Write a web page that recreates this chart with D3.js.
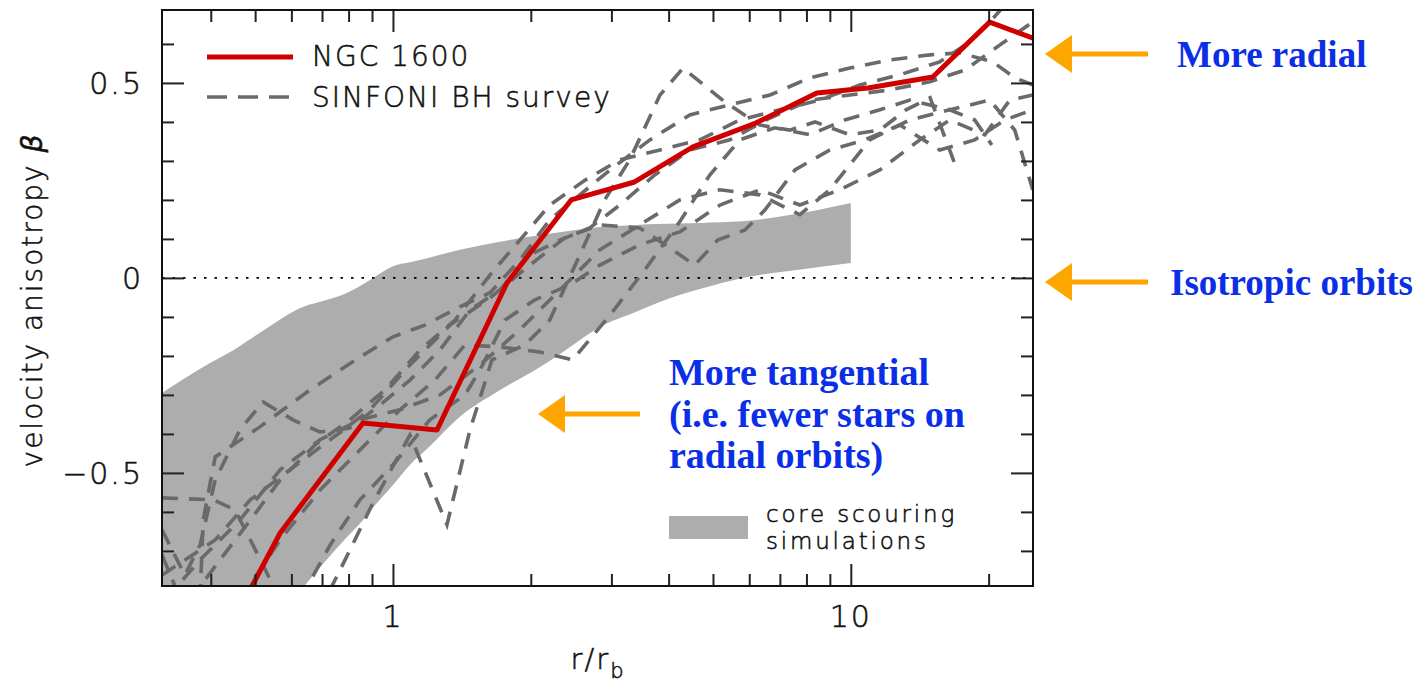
<!DOCTYPE html>
<html>
<head>
<meta charset="utf-8">
<script src="https://cdn.jsdelivr.net/npm/d3@7"></script>
<style>
  html, body { margin: 0; padding: 0; background: #ffffff; }
  svg { display: block; }
  .axis-text { font-family: "DejaVu Sans", sans-serif; font-weight: 200; fill: #111; stroke: #111; stroke-width: 0.55px; letter-spacing: 2px; }
  .note { font-family: "Liberation Serif", "Times New Roman", serif; font-weight: bold; fill: #0a2fe6; }
</style>
</head>
<body>
<svg id="chart" width="1425" height="683"></svg>
<script>
// ---- axis ranges and ticks ----
const xDomain = [0.313, 25];
const yDomain = [-0.79, 0.687];
const xMajorTicks = [1, 10];
const xMinorTicks = [0.4, 0.5, 0.6, 0.7, 0.8, 0.9, 2, 3, 4, 5, 6, 7, 8, 9, 20];
const yMajorTicks = [-0.5, 0, 0.5];
const yMinorTicks = [-0.7, -0.6, -0.4, -0.3, -0.2, -0.1, 0.1, 0.2, 0.3, 0.4, 0.6];

// ---- NGC 1600 anisotropy profile ----
const ngcR    = [0.417, 0.567, 0.860, 1.248, 1.774, 2.45, 3.37, 4.52, 6.20, 8.43, 10.9, 15.1, 20.1, 25.0];
const ngcBeta = [-0.95, -0.654, -0.372, -0.390, -0.013, 0.200, 0.246, 0.336, 0.397, 0.474, 0.487, 0.515, 0.656, 0.615];

// ---- core scouring simulations (band) ----
const bandR     = [0.313, 0.4, 0.45, 0.51, 0.64, 0.7, 0.79, 0.85, 0.9, 1.0, 1.09, 1.2, 1.4, 1.7, 2.1, 2.5, 2.8, 3.4, 3.8, 4.7, 5.8, 7.7, 10];
const bandUpper = [-0.295, -0.217, -0.184, -0.142, -0.073, -0.06, -0.039, -0.02, -0.002, 0.03, 0.04, 0.052, 0.072, 0.092, 0.11, 0.123, 0.13, 0.136, 0.138, 0.141, 0.145, 0.165, 0.192];
const bandLower = [-1.3, -1.1, -1.0, -0.93, -0.79, -0.736, -0.667, -0.628, -0.592, -0.531, -0.479, -0.433, -0.356, -0.29, -0.228, -0.168, -0.129, -0.087, -0.063, -0.028, 0.0, 0.021, 0.038];

// ---- SINFONI BH survey galaxies ----
const sinfoni1R    = [0.313, 0.405, 0.452, 0.507, 0.581, 0.693, 0.786, 0.900, 1.089, 1.312, 1.473, 1.645, 1.94, 2.20, 2.56, 2.90, 3.29, 3.83, 4.30, 5.31, 6.33, 7.36, 8.35, 9.95, 11.57, 13.2, 14.9, 16.9];
const sinfoni1Beta = [-0.564, -0.569, -0.595, -0.710, -0.851, -0.851, -0.723, -0.582, -0.403, -0.633, -0.390, -0.210, -0.172, -0.108, 0.059, 0.200, 0.303, 0.469, 0.538, 0.451, 0.392, 0.379, 0.400, 0.367, 0.379, 0.431, 0.462, 0.290];

const sinfoni2R    = [0.463, 0.567, 0.693, 0.847, 1.036, 1.235, 1.436, 1.713, 2.094, 2.47, 2.98, 3.55, 4.23, 4.92, 5.72, 6.82, 8.14, 9.70, 11.57, 13.45, 16.45, 18.65, 20.32];
const sinfoni2Beta = [-0.826, -0.672, -0.544, -0.441, -0.338, -0.262, -0.172, -0.177, -0.190, -0.210, -0.095, 0.021, 0.144, 0.264, 0.354, 0.385, 0.367, 0.405, 0.431, 0.456, 0.431, 0.405, 0.341];

const sinfoni3R    = [0.313, 0.409, 0.488, 0.596, 0.729, 0.891, 1.089, 1.332, 1.63, 1.991, 2.375, 2.83, 3.46, 3.93, 4.56, 5.12, 5.87, 6.49, 7.55, 9.00, 10.73, 12.80, 15.64, 18.65, 21.69, 24.97];
const sinfoni3Beta = [-0.762, -0.672, -0.569, -0.492, -0.415, -0.338, -0.223, -0.121, -0.051, 0.033, 0.103, 0.136, 0.128, 0.085, 0.033, 0.097, 0.123, 0.174, 0.277, 0.328, 0.354, 0.392, 0.328, 0.354, 0.405, 0.431];

const sinfoni4R    = [0.379, 0.385, 0.409, 0.512, 0.659, 0.847, 1.0, 1.174, 1.40, 1.63, 1.893, 2.20, 2.56, 2.98, 3.64, 4.45, 5.44, 6.66, 8.14, 9.95, 12.17, 14.88, 17.30, 20.42, 22.81, 24.97];
const sinfoni4Beta = [-0.826, -0.621, -0.459, -0.382, -0.287, -0.203, -0.151, -0.121, -0.074, -0.038, 0.046, 0.149, 0.213, 0.277, 0.354, 0.418, 0.444, 0.469, 0.513, 0.538, 0.559, 0.572, 0.577, 0.554, 0.513, 0.495];

const sinfoni5R    = [0.313, 0.351, 0.379, 0.409, 0.463, 0.520, 0.605, 0.693, 0.805, 0.937, 1.089, 1.266, 1.473, 1.713, 1.991, 2.315, 2.69, 3.13, 3.73, 4.45, 5.44, 6.66, 8.14, 9.95, 12.17, 14.88, 17.74, 21.14, 24.97];
const sinfoni5Beta = [-0.646, -0.762, -0.685, -0.518, -0.390, -0.318, -0.364, -0.395, -0.385, -0.326, -0.262, -0.185, -0.082, -0.031, 0.059, 0.097, 0.128, 0.187, 0.264, 0.328, 0.354, 0.410, 0.456, 0.469, 0.482, 0.503, 0.533, 0.597, 0.656];

const sinfoni6R    = [0.313, 0.334, 0.360, 0.419, 0.488, 0.567, 0.676, 0.805, 0.961, 1.145, 1.366, 1.63, 1.893, 2.20, 2.63, 3.13, 3.83, 4.68, 5.72, 7.00, 8.55, 10.47, 12.80, 15.64, 18.19, 20.12, 21.69];
const sinfoni6Beta = [-0.710, -0.790, -0.826, -0.723, -0.621, -0.518, -0.428, -0.364, -0.287, -0.185, -0.108, 0.008, 0.097, 0.187, 0.251, 0.303, 0.328, 0.354, 0.405, 0.431, 0.456, 0.495, 0.521, 0.554, 0.605, 0.656, 0.700];

const sinfoni7R    = [0.626, 0.729, 0.847, 1.0, 1.204, 1.436, 1.549, 1.757, 2.042, 2.435, 2.83, 3.46, 4.23, 5.18, 6.33, 7.74, 9.46, 11.57, 14.15, 16.45, 19.62, 22.24, 24.97];
const sinfoni7Beta = [-0.826, -0.685, -0.569, -0.479, -0.364, -0.300, -0.236, -0.108, -0.056, -0.018, 0.033, 0.085, 0.118, 0.187, 0.226, 0.187, 0.226, 0.277, 0.354, 0.405, 0.367, 0.456, 0.469];

const sinfoni8R    = [0.318, 0.379, 0.463, 0.567, 0.693, 0.847, 1.036, 1.266, 1.549, 1.893, 2.315, 2.83, 3.46, 4.23, 5.18, 6.33, 7.74, 9.00, 11.0, 13.45, 16.45, 20.12, 22.81, 24.97];
const sinfoni8Beta = [-0.826, -0.723, -0.621, -0.492, -0.415, -0.364, -0.338, -0.300, -0.223, -0.133, -0.031, 0.072, 0.136, 0.200, 0.226, 0.213, 0.162, 0.226, 0.354, 0.405, 0.431, 0.456, 0.379, 0.226];

const sinfoniSeries = [
  [sinfoni1R, sinfoni1Beta], [sinfoni2R, sinfoni2Beta], [sinfoni3R, sinfoni3Beta],
  [sinfoni4R, sinfoni4Beta], [sinfoni5R, sinfoni5Beta], [sinfoni6R, sinfoni6Beta],
  [sinfoni7R, sinfoni7Beta], [sinfoni8R, sinfoni8Beta]
];

// ---- layout ----
const plot = { left: 162, right: 1033, top: 10, bottom: 586 };
const svg = d3.select("#chart");

const x = d3.scaleLog().domain(xDomain).range([plot.left, plot.right]);
const y = d3.scaleLinear().domain(yDomain).range([plot.bottom, plot.top]);

svg.append("defs").append("clipPath").attr("id", "plot-clip")
  .append("rect")
  .attr("x", plot.left).attr("y", plot.top)
  .attr("width", plot.right - plot.left).attr("height", plot.bottom - plot.top);

const inner = svg.append("g").attr("clip-path", "url(#plot-clip)");

const bandColor = "#adadad";
const dashColor = "#6a6a6a";
const redColor = "#d00000";

// simulation band
const bandData = bandR.map((r, i) => ({ r, lo: bandLower[i], hi: bandUpper[i] }));
inner.append("path")
  .datum(bandData)
  .attr("fill", bandColor)
  .attr("d", d3.area()
    .x(d => x(d.r))
    .y0(d => y(d.lo))
    .y1(d => y(d.hi))
    .curve(d3.curveMonotoneX));

// isotropic reference line
inner.append("line")
  .attr("x1", plot.left).attr("x2", plot.right)
  .attr("y1", y(0)).attr("y2", y(0))
  .attr("stroke", "#000").attr("stroke-width", 1.6)
  .attr("stroke-dasharray", "2.5,8");

// survey profiles
const line = d3.line().x(d => x(d[0])).y(d => y(d[1]));
sinfoniSeries.forEach(([rs, bs]) => {
  inner.append("path")
    .datum(rs.map((r, i) => [r, bs[i]]))
    .attr("fill", "none")
    .attr("stroke", dashColor)
    .attr("stroke-width", 3.6)
    .attr("stroke-dasharray", "16,11")
    .attr("d", line);
});

// NGC 1600
inner.append("path")
  .datum(ngcR.map((r, i) => [r, ngcBeta[i]]))
  .attr("fill", "none")
  .attr("stroke", redColor)
  .attr("stroke-width", 5)
  .attr("stroke-linejoin", "round")
  .attr("d", line);

// ---- frame and ticks ----
const tickColor = "#222";
const majorLen = 22, minorLen = 12;

function addTicks(axisFn, scale, values, len, translate) {
  svg.append("g")
    .attr("transform", translate)
    .call(axisFn(scale).tickValues(values).tickSize(len).tickFormat(""))
    .call(g => g.select(".domain").remove())
    .call(g => g.selectAll(".tick line").attr("stroke", tickColor).attr("stroke-width", 2));
}
// bottom & top
addTicks(d3.axisTop, x, xMajorTicks, majorLen, `translate(0,${plot.bottom})`);
addTicks(d3.axisTop, x, xMinorTicks, minorLen, `translate(0,${plot.bottom})`);
addTicks(d3.axisBottom, x, xMajorTicks, majorLen, `translate(0,${plot.top})`);
addTicks(d3.axisBottom, x, xMinorTicks, minorLen, `translate(0,${plot.top})`);
// left & right
addTicks(d3.axisRight, y, yMajorTicks, majorLen, `translate(${plot.left},0)`);
addTicks(d3.axisRight, y, yMinorTicks, minorLen, `translate(${plot.left},0)`);
addTicks(d3.axisLeft, y, yMajorTicks, majorLen, `translate(${plot.right},0)`);
addTicks(d3.axisLeft, y, yMinorTicks, minorLen, `translate(${plot.right},0)`);

svg.append("rect")
  .attr("x", plot.left).attr("y", plot.top)
  .attr("width", plot.right - plot.left).attr("height", plot.bottom - plot.top)
  .attr("fill", "none").attr("stroke", "#111").attr("stroke-width", 2);

// tick labels
const yFmt = d => d === 0 ? "0" : d3.format(".1f")(d);
svg.append("g").selectAll("text")
  .data(yMajorTicks).join("text")
  .attr("class", "axis-text")
  .attr("x", 143).attr("y", d => y(d) + 11)
  .attr("text-anchor", "end")
  .attr("font-size", 30)
  .text(yFmt);

svg.append("g").selectAll("text")
  .data(xMajorTicks).join("text")
  .attr("class", "axis-text")
  .attr("x", d => x(d)).attr("y", 627)
  .attr("text-anchor", "middle")
  .attr("font-size", 30)
  .text(d => d3.format("d")(d));

// axis titles
const xTitle = svg.append("text")
  .attr("class", "axis-text")
  .attr("x", 598).attr("y", 669)
  .attr("text-anchor", "middle")
  .attr("font-size", 29);
xTitle.append("tspan").text("r/r");
xTitle.append("tspan").attr("dy", 9).attr("font-size", 21).text("b");

const yTitle = svg.append("text")
  .attr("class", "axis-text")
  .attr("transform", "translate(42,300) rotate(-90)")
  .attr("text-anchor", "middle")
  .attr("font-size", 28);
yTitle.append("tspan").text("velocity anisotropy ");
yTitle.append("tspan").attr("font-style", "italic").text("β");

// ---- legends ----
const legend = svg.append("g");
legend.append("line")
  .attr("x1", 207).attr("x2", 293).attr("y1", 57).attr("y2", 57)
  .attr("stroke", redColor).attr("stroke-width", 5);
legend.append("text").attr("class", "axis-text")
  .attr("x", 312).attr("y", 66).attr("font-size", 28).text("NGC 1600");
legend.append("line")
  .attr("x1", 207).attr("x2", 293).attr("y1", 97).attr("y2", 97)
  .attr("stroke", dashColor).attr("stroke-width", 3.6)
  .attr("stroke-dasharray", "20,11");
legend.append("text").attr("class", "axis-text")
  .attr("x", 312).attr("y", 107).attr("font-size", 28).text("SINFONI BH survey");

legend.append("rect")
  .attr("x", 669).attr("y", 516).attr("width", 79).attr("height", 23)
  .attr("fill", bandColor);
legend.append("text").attr("class", "axis-text")
  .attr("x", 766).attr("y", 522).attr("font-size", 23)
  .style("letter-spacing", "2.8px").text("core scouring");
legend.append("text").attr("class", "axis-text")
  .attr("x", 766).attr("y", 549).attr("font-size", 23)
  .style("letter-spacing", "2.8px").text("simulations");

// ---- annotations ----
const arrowColor = "#ffa500";
function arrow(tipX, tipY, tailX) {
  const g = svg.append("g");
  g.append("line")
    .attr("x1", tipX + 24).attr("x2", tailX)
    .attr("y1", tipY).attr("y2", tipY)
    .attr("stroke", arrowColor).attr("stroke-width", 5);
  g.append("path")
    .attr("d", `M${tipX},${tipY} L${tipX + 27},${tipY - 19} L${tipX + 27},${tipY + 19} Z`)
    .attr("fill", arrowColor);
}
arrow(1045, 54, 1148);
arrow(1045, 282, 1148);
arrow(538, 414, 640);

const notes = svg.append("g").attr("class", "note");
notes.append("text").attr("x", 1177).attr("y", 67).attr("font-size", 37).text("More radial");
notes.append("text").attr("x", 1170).attr("y", 295).attr("font-size", 37).text("Isotropic orbits");
notes.append("text").attr("x", 669).attr("y", 385).attr("font-size", 38).text("More tangential");
notes.append("text").attr("x", 669).attr("y", 427).attr("font-size", 38).text("(i.e. fewer stars on");
notes.append("text").attr("x", 669).attr("y", 468).attr("font-size", 38).text("radial orbits)");
</script>
</body>
</html>
